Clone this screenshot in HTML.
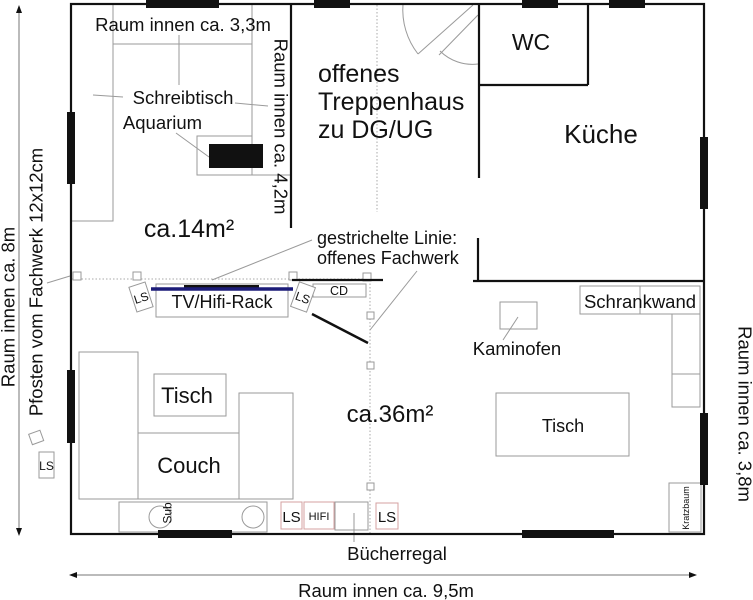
<!DOCTYPE html>
<html><head><meta charset="utf-8"><style>
html,body{margin:0;padding:0;background:#fff;}
svg{display:block;}
text{font-family:"Liberation Sans",Arial,sans-serif;fill:#111;}
</style></head><body>
<svg width="753" height="600" viewBox="0 0 753 600" xmlns="http://www.w3.org/2000/svg">
<rect width="753" height="600" fill="#fff"/>

<!-- dotted Fachwerk lines -->
<g stroke="#a8a8a8" stroke-width="1" stroke-dasharray="1.5 2" fill="none">
<line x1="71" y1="279" x2="370" y2="279"/>
<line x1="377" y1="5" x2="377" y2="212"/>
<line x1="370" y1="280" x2="370" y2="533"/>
</g>

<!-- furniture gray -->
<g stroke="#9a9a9a" stroke-width="1" fill="none">
<polyline points="71,221 113,221 113,4"/>
<line x1="113" y1="44" x2="252" y2="44"/>
<line x1="252" y1="4" x2="252" y2="175"/>
<rect x="197" y="136" width="55" height="39"/>
<line x1="252" y1="175" x2="291" y2="175"/>
<!-- leaders -->
<line x1="179" y1="35" x2="179" y2="85"/>
<line x1="93" y1="95" x2="123" y2="97"/>
<line x1="235" y1="103" x2="268" y2="106"/>
<line x1="176" y1="133" x2="209" y2="157"/>
<line x1="312" y1="240" x2="212" y2="280"/>
<line x1="417" y1="271" x2="370" y2="330"/>
<line x1="47" y1="283" x2="70" y2="276"/>
<line x1="518" y1="317" x2="503" y2="340"/>
<line x1="354" y1="513" x2="354" y2="542"/>
<!-- door arcs -->
<path d="M403,4 A72,72 0 0,0 418,54"/>
<line x1="418" y1="54" x2="473" y2="5"/>
<line x1="439" y1="55" x2="478" y2="15"/>
<path d="M440,51 A46,46 0 0,0 478,64"/>
<!-- rack and items -->
<rect x="156" y="284" width="132" height="33"/>
<rect x="313" y="284" width="53" height="13"/>
<rect x="79" y="352" width="59" height="147"/>
<rect x="138" y="433" width="101" height="66"/>
<rect x="239" y="393" width="54" height="106"/>
<rect x="154" y="374" width="72" height="42"/>
<rect x="119" y="502" width="148" height="30"/>
<circle cx="160" cy="517" r="11"/>
<circle cx="253" cy="517" r="11"/>
<rect x="335" y="502" width="33" height="28"/>
<rect x="500" y="302" width="37" height="27"/>
<rect x="580" y="286" width="120" height="28"/>
<line x1="640" y1="286" x2="640" y2="314"/>
<rect x="672" y="314" width="28" height="93"/>
<line x1="672" y1="374" x2="700" y2="374"/>
<rect x="496" y="393" width="133" height="63"/>
<rect x="669" y="483" width="32" height="49"/>
<rect x="39" y="452" width="15" height="26"/>
<rect x="30" y="432" width="12" height="11" transform="rotate(-20 36 437)"/>
</g>

<!-- red boxes -->
<g stroke="#d4a0a0" stroke-width="1" fill="none">
<rect x="281" y="502" width="21" height="27"/>
<rect x="304" y="502" width="30" height="27"/>
<rect x="376" y="503" width="22" height="26"/>
</g>

<!-- posts -->
<g stroke="#999" stroke-width="1" fill="#fff">
<rect x="73" y="272" width="8" height="8"/>
<rect x="133" y="272" width="8" height="8"/>
<rect x="289" y="272" width="8" height="8"/>
<rect x="363" y="273" width="8" height="8"/>
<rect x="367" y="312" width="7" height="7"/>
<rect x="367" y="362" width="7" height="7"/>
<rect x="367" y="483" width="7" height="7"/>
</g>

<!-- walls -->
<g stroke="#111" stroke-width="2.2" fill="none">
<rect x="71" y="4" width="633" height="530"/>
<line x1="291" y1="4" x2="291" y2="228"/>
<line x1="479" y1="4" x2="479" y2="178"/>
<line x1="479" y1="85" x2="588" y2="85"/>
<line x1="588" y1="4" x2="588" y2="85"/>
<line x1="478" y1="238" x2="478" y2="281"/>
<line x1="473" y1="281" x2="704" y2="281"/>
<line x1="292" y1="280" x2="383" y2="280"/>
<line x1="312" y1="314" x2="368" y2="343" stroke-width="2.5"/>
</g>

<!-- windows -->
<g fill="#111">
<rect x="146" y="0" width="73" height="8"/>
<rect x="314" y="0" width="36" height="8"/>
<rect x="522" y="0" width="36" height="8"/>
<rect x="609" y="0" width="36" height="8"/>
<rect x="67" y="112" width="8" height="72"/>
<rect x="67" y="370" width="8" height="73"/>
<rect x="700" y="137" width="8" height="72"/>
<rect x="700" y="413" width="8" height="72"/>
<rect x="158" y="530" width="74" height="8"/>
<rect x="522" y="530" width="92" height="8"/>
<rect x="209" y="144" width="54" height="24"/>
<rect x="184" y="285" width="75" height="3"/>
</g>
<line x1="151" y1="289" x2="293" y2="289" stroke="#1c1c78" stroke-width="3.5"/>

<!-- rotated LS speakers -->
<g transform="rotate(-18 141 297)">
<rect x="132.5" y="284" width="17" height="26" fill="#fff" stroke="#999" stroke-width="1"/>
<text x="141" y="302" font-size="12" text-anchor="middle">LS</text>
</g>
<g transform="rotate(20 303 297)">
<rect x="294.5" y="284" width="17" height="26" fill="#fff" stroke="#999" stroke-width="1"/>
<text x="303" y="302" font-size="12" text-anchor="middle">LS</text>
</g>

<!-- dimension arrows -->
<g stroke="#777" stroke-width="1">
<line x1="19" y1="12" x2="19" y2="530"/>
<line x1="75" y1="575" x2="691" y2="575"/>
</g>
<g fill="#111">
<polygon points="19,5 16,13 22,13"/>
<polygon points="19,536 16,528 22,528"/>
<polygon points="69,575 77,572 77,578"/>
<polygon points="697,575 689,572 689,578"/>
</g>

<!-- texts -->
<g font-size="18.5">
<text x="183" y="31" text-anchor="middle">Raum innen ca. 3,3m</text>
<text x="183" y="104" text-anchor="middle">Schreibtisch</text>
<text x="162.5" y="129" text-anchor="middle">Aquarium</text>
<text transform="translate(281 126.5) rotate(90)" x="0" y="6.5" text-anchor="middle">Raum innen ca. 4,2m</text>
<text transform="translate(8 307) rotate(-90)" x="0" y="6.5" text-anchor="middle">Raum innen ca. 8m</text>
<text transform="translate(36 282) rotate(-90)" x="0" y="6.5" text-anchor="middle">Pfosten vom Fachwerk 12x12cm</text>
<text transform="translate(745 414) rotate(90)" x="0" y="6.5" text-anchor="middle">Raum innen ca. 3,8m</text>
<text x="517" y="355" text-anchor="middle">Kaminofen</text>
<text x="640" y="308" text-anchor="middle">Schrankwand</text>
<text x="397" y="560" text-anchor="middle">Bücherregal</text>
<text x="386" y="597" text-anchor="middle">Raum innen ca. 9,5m</text>
</g>
<g font-size="18">
<text x="317" y="244">gestrichelte Linie:</text>
<text x="317" y="264">offenes Fachwerk</text>
<text x="222" y="308" text-anchor="middle">TV/Hifi-Rack</text>
<text x="563" y="432" text-anchor="middle">Tisch</text>
</g>
<g font-size="25">
<text x="318" y="82">offenes</text>
<text x="318" y="110">Treppenhaus</text>
<text x="318" y="138">zu DG/UG</text>
<text x="189" y="237" text-anchor="middle">ca.14m²</text>
</g>
<text x="390" y="422" font-size="24" text-anchor="middle">ca.36m²</text>
<text x="531" y="50" font-size="23" text-anchor="middle">WC</text>
<text x="601" y="143" font-size="26" text-anchor="middle">Küche</text>
<text x="187" y="403" font-size="22" text-anchor="middle">Tisch</text>
<text x="189" y="473" font-size="22" text-anchor="middle">Couch</text>
<text x="339" y="295" font-size="12.5" text-anchor="middle">CD</text>
<text x="291.5" y="522" font-size="15" text-anchor="middle">LS</text>
<text x="319" y="520" font-size="11" text-anchor="middle">HIFI</text>
<text x="387" y="522" font-size="15" text-anchor="middle">LS</text>
<text x="46.5" y="470" font-size="12" text-anchor="middle">LS</text>
<text transform="translate(167 513) rotate(-90)" x="0" y="4.5" font-size="12" text-anchor="middle">Sub</text>
<text transform="translate(686 508) rotate(-90)" x="0" y="3.2" font-size="9" text-anchor="middle">Kratzbaum</text>
</svg>
</body></html>
